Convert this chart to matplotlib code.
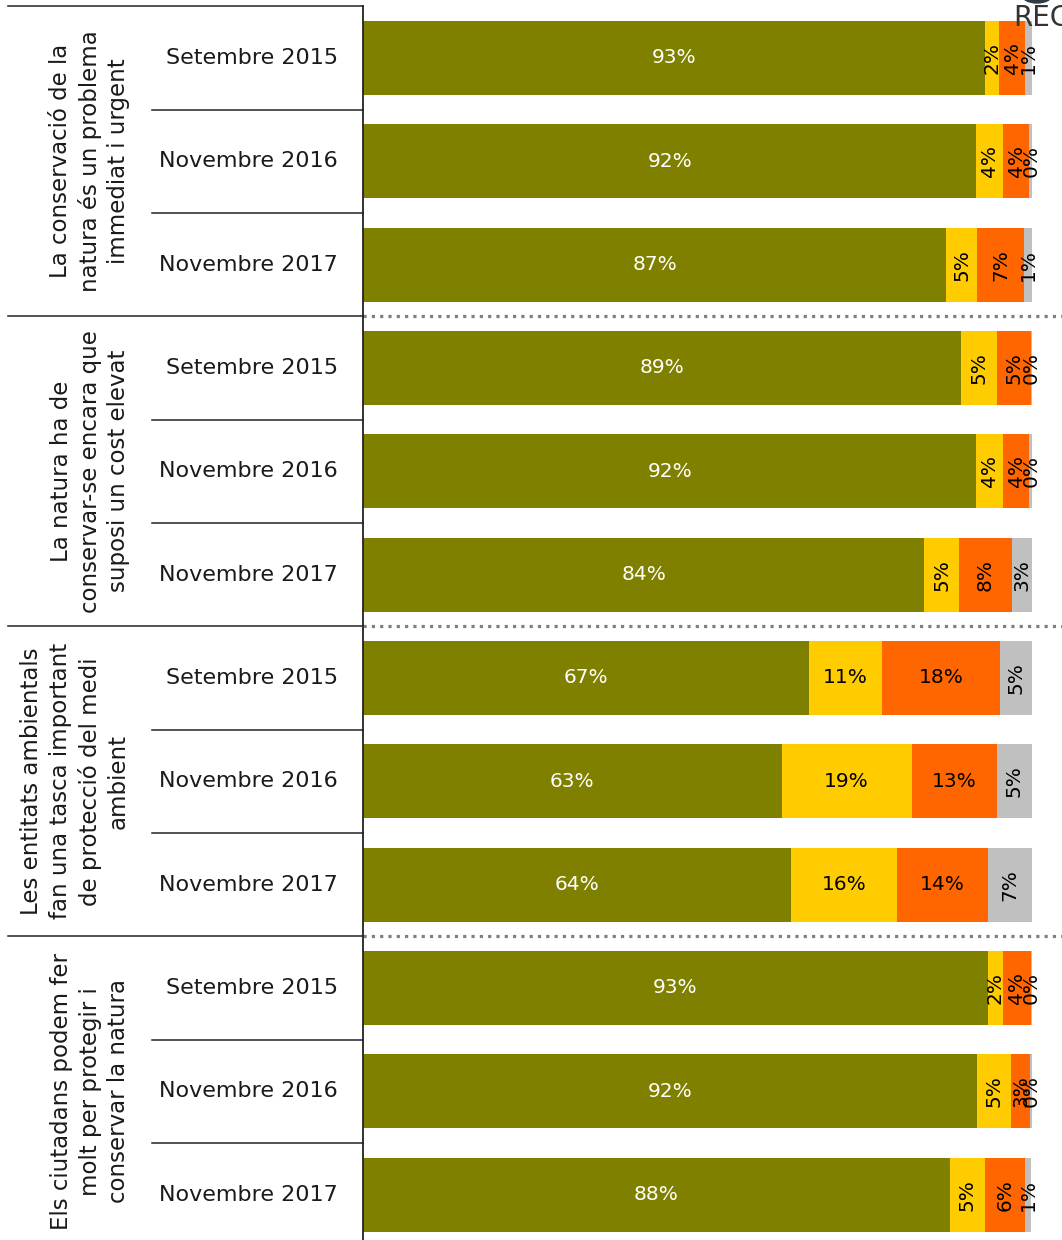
import matplotlib
matplotlib.use("Agg")
import matplotlib.pyplot as plt
from matplotlib.patches import Ellipse
import numpy as np

# survey rows (top to bottom), shares in %
statements = [
    "La conservació de la\nnatura és un problema\nimmediat i urgent",
    "La natura ha de\nconservar-se encara que\nsuposi un cost elevat",
    "Les entitats ambientals\nfan una tasca important\nde protecció del medi\nambient",
    "Els ciutadans podem fer\nmolt per protegir i\nconservar la natura",
]
waves = ["Setembre 2015", "Novembre 2016", "Novembre 2017"]

agree = [93.0, 91.7, 87.2, 89.4, 91.7, 83.9, 66.6, 62.6, 64.0, 93.4, 91.8, 87.7]
neutral = [2.1, 4.0, 4.6, 5.3, 4.0, 5.2, 11.0, 19.4, 15.8, 2.2, 5.1, 5.2]
disagree = [3.9, 3.9, 7.0, 5.1, 3.9, 7.9, 17.6, 12.7, 13.6, 4.2, 2.8, 6.1]
nsnc = [1.0, 0.4, 1.2, 0.2, 0.4, 3.0, 4.8, 5.3, 6.6, 0.2, 0.3, 0.9]

colors = ["#808000", "#FFCC00", "#FF6600", "#C0C0C0"]
txt_colors = ["white", "black", "black", "black"]

W, H = 1062, 1240
fig = plt.figure(figsize=(W / 100, H / 100), dpi=100)
x0, x1 = 363, 1032
top_px, row_px = 6.3, 103.33
n = len(agree)
ax = fig.add_axes([x0 / W, 1 - (top_px + n * row_px) / H, (x1 - x0) / W, n * row_px / H])
ax.set_xlim(0, 100)
ax.set_ylim(n - 0.5, -0.5)


def px(p):
    # figure pixel -> data x
    return (p - x0) / (x1 - x0) * 100


y = np.arange(n)
left = np.zeros(n)
for vals, col, tc in zip([agree, neutral, disagree, nsnc], colors, txt_colors):
    vals = np.array(vals)
    ax.barh(y, vals, left=left, height=0.716, color=col, edgecolor="none")
    for yi, l, v in zip(y, left, vals):
        small = v < 10 and col != colors[0]
        ax.text(l + v / 2, yi, f"{v:.0f}%", ha="center", va="center",
                rotation=90 if small else 0, color=tc, fontsize=14.5, clip_on=False)
    left += vals

# table on the left
lc = "#222222"
for g in range(len(statements)):
    yb = g * 3 - 0.5
    ax.plot([px(8), 0], [yb, yb], color=lc, lw=1.1, clip_on=False)
    if g > 0:
        ax.plot([0, px(W)], [yb, yb], color="#808080", lw=2.3,
                linestyle=(0, (1, 1.6)), clip_on=False)
    for k in range(1, 3):
        ax.plot([px(152), 0], [yb + k, yb + k], color=lc, lw=1.1, clip_on=False)
    ax.text(px(130), g * 3 + 1, statements[g], rotation=90, ha="right", va="center",
            multialignment="center", fontsize=16.5, linespacing=1.3, color="#1a1a1a")
    for k, w in enumerate(waves):
        ax.text(px(338), g * 3 + k, w, ha="right", va="center", fontsize=16, color="#1a1a1a")

for s in ["top", "right", "bottom"]:
    ax.spines[s].set_visible(False)
ax.spines["left"].set_color(lc)
ax.spines["left"].set_linewidth(1.3)
ax.set_xticks([])
ax.set_yticks([])

# logo fragment cut off at the top right
fig.patches.append(Ellipse((1037 / W, 1 + 5 / H), 30 / W, 16 / H, color="#2f3b45",
                           transform=fig.transFigure))
fig.text(1013 / W, 1 - 4 / H, "REC", ha="left", va="top", fontsize=20, color="#333333")

fig.savefig("out.png", dpi=100)
